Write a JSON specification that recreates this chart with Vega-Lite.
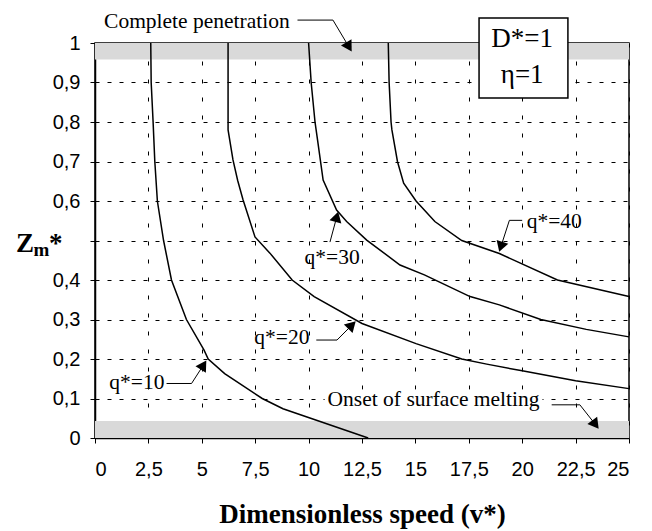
{
  "$schema": "https://vega.github.io/schema/vega-lite/v6.json",
  "width": 534,
  "height": 395,
  "autosize": "none",
  "padding": {"left": 95, "top": 43, "right": 23, "bottom": 93},
  "background": "white",
  "config": {
    "view": {"stroke": "black", "strokeWidth": 1.5},
    "axis": {
      "domainColor": "black", "domainWidth": 1.5,
      "tickColor": "black", "tickWidth": 1, "tickSize": 5,
      "labelColor": "black", "labelFont": "Liberation Sans", "labelFontSize": 20,
      "labelOverlap": false,
      "gridColor": "black", "gridWidth": 1
    }
  },
  "datasets": {
    "bands": [
      {"v": 0, "v2": 25, "z": 0.958, "z2": 1},
      {"v": 0, "v2": 25, "z": 0, "z2": 0.043}
    ],
    "curves": [
      {"q": 10, "i": 0, "v": 2.61, "z": 1.0},
      {"q": 10, "i": 1, "v": 2.63, "z": 0.9},
      {"q": 10, "i": 2, "v": 2.72, "z": 0.8},
      {"q": 10, "i": 3, "v": 2.8, "z": 0.7},
      {"q": 10, "i": 4, "v": 2.92, "z": 0.6},
      {"q": 10, "i": 5, "v": 3.21, "z": 0.5},
      {"q": 10, "i": 6, "v": 3.58, "z": 0.4},
      {"q": 10, "i": 7, "v": 4.28, "z": 0.3},
      {"q": 10, "i": 8, "v": 5.1, "z": 0.223},
      {"q": 10, "i": 9, "v": 5.3, "z": 0.2},
      {"q": 10, "i": 10, "v": 6.07, "z": 0.163},
      {"q": 10, "i": 11, "v": 7.83, "z": 0.1},
      {"q": 10, "i": 12, "v": 8.8, "z": 0.074},
      {"q": 10, "i": 13, "v": 12.79, "z": 0.0},
      {"q": 20, "i": 0, "v": 6.23, "z": 1.0},
      {"q": 20, "i": 1, "v": 6.23, "z": 0.78},
      {"q": 20, "i": 2, "v": 6.46, "z": 0.704},
      {"q": 20, "i": 3, "v": 6.68, "z": 0.652},
      {"q": 20, "i": 4, "v": 6.93, "z": 0.603},
      {"q": 20, "i": 5, "v": 7.49, "z": 0.509},
      {"q": 20, "i": 6, "v": 8.19, "z": 0.468},
      {"q": 20, "i": 7, "v": 9.23, "z": 0.4},
      {"q": 20, "i": 8, "v": 10.26, "z": 0.358},
      {"q": 20, "i": 9, "v": 12.5, "z": 0.29},
      {"q": 20, "i": 10, "v": 15.03, "z": 0.239},
      {"q": 20, "i": 11, "v": 17.17, "z": 0.2},
      {"q": 20, "i": 12, "v": 18.34, "z": 0.187},
      {"q": 20, "i": 13, "v": 20.0, "z": 0.17},
      {"q": 20, "i": 14, "v": 22.5, "z": 0.145},
      {"q": 20, "i": 15, "v": 25.0, "z": 0.125},
      {"q": 30, "i": 0, "v": 10.0, "z": 1.0},
      {"q": 30, "i": 1, "v": 10.12, "z": 0.9},
      {"q": 30, "i": 2, "v": 10.3, "z": 0.8},
      {"q": 30, "i": 3, "v": 10.42, "z": 0.754},
      {"q": 30, "i": 4, "v": 10.68, "z": 0.653},
      {"q": 30, "i": 5, "v": 11.31, "z": 0.577},
      {"q": 30, "i": 6, "v": 11.78, "z": 0.548},
      {"q": 30, "i": 7, "v": 12.72, "z": 0.501},
      {"q": 30, "i": 8, "v": 14.28, "z": 0.438},
      {"q": 30, "i": 9, "v": 15.42, "z": 0.413},
      {"q": 30, "i": 10, "v": 17.56, "z": 0.358},
      {"q": 30, "i": 11, "v": 18.93, "z": 0.337},
      {"q": 30, "i": 12, "v": 20.87, "z": 0.3},
      {"q": 30, "i": 13, "v": 23.0, "z": 0.275},
      {"q": 30, "i": 14, "v": 25.0, "z": 0.256},
      {"q": 40, "i": 0, "v": 13.73, "z": 1.0},
      {"q": 40, "i": 1, "v": 13.77, "z": 0.9},
      {"q": 40, "i": 2, "v": 13.86, "z": 0.8},
      {"q": 40, "i": 3, "v": 13.9, "z": 0.78},
      {"q": 40, "i": 4, "v": 14.16, "z": 0.7},
      {"q": 40, "i": 5, "v": 14.45, "z": 0.645},
      {"q": 40, "i": 6, "v": 15.03, "z": 0.6},
      {"q": 40, "i": 7, "v": 15.91, "z": 0.548},
      {"q": 40, "i": 8, "v": 17.17, "z": 0.5},
      {"q": 40, "i": 9, "v": 18.93, "z": 0.467},
      {"q": 40, "i": 10, "v": 21.65, "z": 0.4},
      {"q": 40, "i": 11, "v": 25.0, "z": 0.358}
    ],
    "connectors": [
      {"id": "cp", "i": 0, "v": 9.48, "z": 1.058},
      {"id": "cp", "i": 1, "v": 11.14, "z": 1.058},
      {"id": "cp", "i": 2, "v": 11.89, "z": 0.99},
      {"id": "q40", "i": 0, "v": 20.0, "z": 0.551},
      {"id": "q40", "i": 1, "v": 19.4, "z": 0.551},
      {"id": "q40", "i": 2, "v": 19.0, "z": 0.484},
      {"id": "q30", "i": 0, "v": 11.0, "z": 0.496},
      {"id": "q30", "i": 1, "v": 11.32, "z": 0.56},
      {"id": "q20", "i": 0, "v": 10.36, "z": 0.248},
      {"id": "q20", "i": 1, "v": 11.33, "z": 0.248},
      {"id": "q20", "i": 2, "v": 12.03, "z": 0.286},
      {"id": "q10", "i": 0, "v": 3.35, "z": 0.138},
      {"id": "q10", "i": 1, "v": 4.52, "z": 0.138},
      {"id": "q10", "i": 2, "v": 5.08, "z": 0.185},
      {"id": "onset", "i": 0, "v": 21.38, "z": 0.084},
      {"id": "onset", "i": 1, "v": 22.7, "z": 0.084},
      {"id": "onset", "i": 2, "v": 23.43, "z": 0.034}
    ],
    "arrows": [
      {"id": "cp", "v": 11.89, "z": 0.99, "dir": 149},
      {"id": "q40", "v": 19.0, "z": 0.484, "dir": 198},
      {"id": "q30", "v": 11.32, "z": 0.56, "dir": 15},
      {"id": "q20", "v": 12.03, "z": 0.286, "dir": 45},
      {"id": "q10", "v": 5.08, "z": 0.185, "dir": 32},
      {"id": "onset", "v": 23.43, "z": 0.034, "dir": 143}
    ],
    "labels": [
      {"label": "Complete penetration", "v": 4.77, "z": 1.052},
      {"label": "q*=40", "v": 21.5, "z": 0.548},
      {"label": "q*=30", "v": 11.1, "z": 0.455},
      {"label": "q*=20", "v": 8.75, "z": 0.252},
      {"label": "q*=10", "v": 1.96, "z": 0.138},
      {"label": "Onset of surface melting", "v": 15.85, "z": 0.097}
    ],
    "labelBg": [{"v": 10.75, "v2": 20.95, "z": 0.072, "z2": 0.122}],
    "box": [{"v": 17.98, "v2": 22.14, "z": 0.861, "z2": 1.063}],
    "boxText": [
      {"label": "D*=1", "v": 20.0, "z": 1.01},
      {"label": "η=1", "v": 20.0, "z": 0.92}
    ],
    "titleBig": [
      {"label": "Z", "v": -3.7, "z": 0.471},
      {"label": "*", "v": -2.15, "z": 0.471}
    ],
    "titleSub": [
      {"label": "m", "v": -2.88, "z": 0.461}
    ]
  },
  "encoding": {
    "x": {
      "field": "v", "type": "quantitative",
      "scale": {"domain": [0, 25], "nice": false, "zero": false},
      "axis": {
        "values": [0, 2.5, 5, 7.5, 10, 12.5, 15, 17.5, 20, 22.5, 25],
        "labelExpr": "replace(format(datum.value, '~g'), '.', ',')",
        "grid": true, "gridDash": [4, 14],
        "labelPadding": 16,
        "labelOverlap": false,
        "title": "Dimensionless speed (v*)",
        "titleFont": "Liberation Serif", "titleFontSize": 27, "titleFontWeight": "bold",
        "titleColor": "black", "titlePadding": 22
      }
    },
    "y": {
      "field": "z", "type": "quantitative",
      "scale": {"domain": [0, 1], "nice": false, "zero": false},
      "axis": {
        "values": [0, 0.1, 0.2, 0.3, 0.4, 0.5, 0.6, 0.7, 0.8, 0.9, 1],
        "labelExpr": "datum.value == 0.5 ? '' : replace(format(datum.value, '~g'), '.', ',')",
        "grid": true, "gridDash": [4, 8],
        "labelPadding": 10,
        "labelOverlap": false,
        "title": null
      }
    }
  },
  "layer": [
    {
      "data": {"name": "bands"},
      "mark": {"type": "rect", "color": "#d9d9d9"},
      "encoding": {
        "x2": {"field": "v2"},
        "y2": {"field": "z2"}
      }
    },
    {
      "data": {"name": "labelBg"},
      "mark": {"type": "rect", "color": "white"},
      "encoding": {
        "x2": {"field": "v2"},
        "y2": {"field": "z2"}
      }
    },
    {
      "data": {"name": "curves"},
      "mark": {"type": "line", "color": "black", "strokeWidth": 1.5, "interpolate": "linear"},
      "encoding": {
        "detail": {"field": "q", "type": "nominal"},
        "order": {"field": "i", "type": "quantitative"}
      }
    },
    {
      "data": {"name": "connectors"},
      "mark": {"type": "line", "color": "black", "strokeWidth": 1},
      "encoding": {
        "detail": {"field": "id", "type": "nominal"},
        "order": {"field": "i", "type": "quantitative"}
      }
    },
    {
      "data": {"name": "arrows"},
      "mark": {"type": "point", "shape": "triangle-up", "filled": true, "color": "black", "opacity": 1, "size": 150},
      "encoding": {
        "angle": {"field": "dir", "type": "quantitative", "scale": null}
      }
    },
    {
      "data": {"name": "box"},
      "mark": {"type": "rect", "fill": "white", "stroke": "black", "strokeWidth": 1.5},
      "encoding": {
        "x2": {"field": "v2"},
        "y2": {"field": "z2"}
      }
    },
    {
      "data": {"name": "labels"},
      "mark": {"type": "text", "font": "Liberation Serif", "fontSize": 21.5, "color": "black", "align": "center", "baseline": "middle"},
      "encoding": {
        "text": {"field": "label"}
      }
    },
    {
      "data": {"name": "boxText"},
      "mark": {"type": "text", "font": "Liberation Serif", "fontSize": 27, "color": "black", "align": "center", "baseline": "middle"},
      "encoding": {
        "text": {"field": "label"}
      }
    },
    {
      "data": {"name": "titleBig"},
      "mark": {"type": "text", "font": "Liberation Serif", "fontSize": 27, "fontWeight": "bold", "color": "black", "align": "left", "baseline": "alphabetic"},
      "encoding": {
        "text": {"field": "label"}
      }
    },
    {
      "data": {"name": "titleSub"},
      "mark": {"type": "text", "font": "Liberation Serif", "fontSize": 19, "fontWeight": "bold", "color": "black", "align": "left", "baseline": "alphabetic"},
      "encoding": {
        "text": {"field": "label"}
      }
    }
  ]
}
